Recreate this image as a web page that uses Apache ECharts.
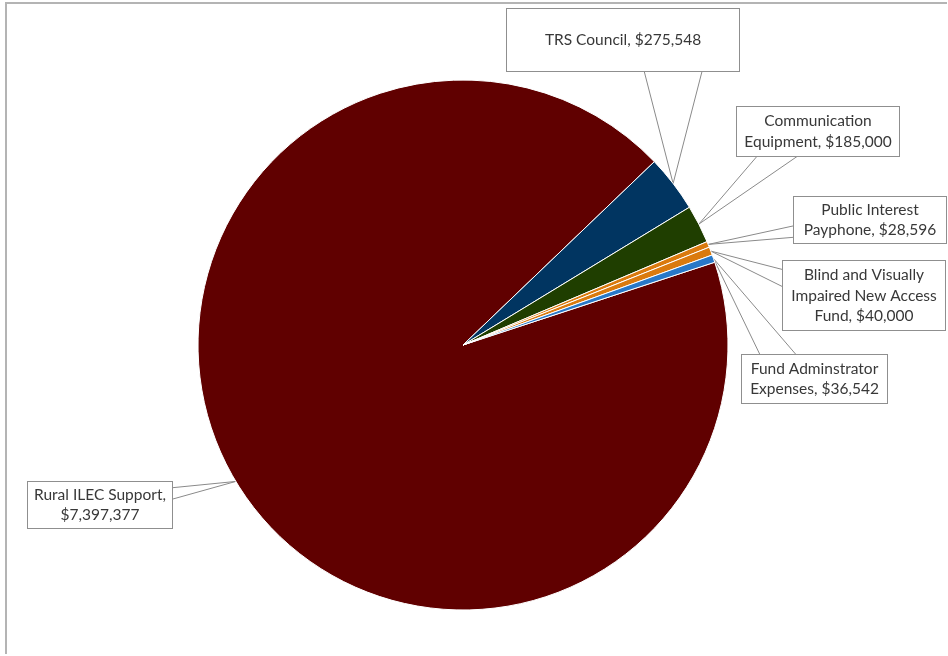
<!DOCTYPE html>
<html>
<head>
<meta charset="utf-8">
<script src="https://cdn.jsdelivr.net/npm/echarts@6/dist/echarts.min.js"></script>
<style>
  html, body { margin: 0; padding: 0; background: #fff; overflow: hidden; }
  #main { width: 948px; height: 656px; }
  #frame {
    position: absolute; left: 5px; top: 2px; width: 940px; height: 650px;
    border-left: 2px solid #b4b4b4; border-top: 2px solid #b4b4b4;
    pointer-events: none;
  }
</style>
</head>
<body>
<div id="main"></div>
<div id="frame"></div>
<script>
// data
const categories = [
    'Rural ILEC Support',
    'TRS Council',
    'Communication\nEquipment',
    'Public Interest\nPayphone',
    'Blind and Visually\nImpaired New Access\nFund',
    'Fund Adminstrator\nExpenses'
]
const values = [7397377, 275548, 185000, 28596, 40000, 36542]
const colors = ['#600000', '#013561', '#1f3e00', '#da7a0e', '#da7a0e', '#2878c8']

// callout boxes: left, top, width, height
const boxes = [
    [28, 482, 144, 46],
    [507, 9, 232, 62],
    [737, 107, 162, 49],
    [794, 197, 152, 46],
    [783, 261, 162, 69],
    [742, 355, 145, 48]
]

function clamp(v, a, b) {
    return Math.max(a, Math.min(b, v))
}

let myChart = echarts.init(document.getElementById('main'))

myChart.setOption({
    animation: false,
    series: [
        {
            type: 'pie',
            center: [463, 345],
            radius: 265,
            startAngle: 18.2,
            avoidLabelOverlap: false,
            itemStyle: {
                borderColor: '#fff',
                borderWidth: 1
            },
            label: {
                show: true,
                position: 'outside',
                color: '#383838',
                fontFamily: 'Lato',
                fontSize: 15.5,
                lineHeight: 20.5,
                backgroundColor: '#fff',
                borderColor: '#8f8f8f',
                borderWidth: 1,
                formatter: (p) => {
                    let v = '$' + p.value.toLocaleString('en-US')
                    // first label puts the value on its own line
                    return p.dataIndex === 0 ? p.name + ',\n' + v : p.name + ', ' + v
                }
            },
            labelLine: {
                show: true,
                length: 10,
                length2: 10,
                lineStyle: { color: '#8a8a8a', width: 1 }
            },
            labelLayout: function (p) {
                let [L, T, W, H] = boxes[p.dataIndex]
                let R = L + W, B = T + H
                let out = { x: L + W / 2, y: T + H / 2, align: 'center', verticalAlign: 'middle' }
                if (p.labelLinePoints) {
                    let [tx, ty] = p.labelLinePoints[0]
                    let ox = tx < L ? L - tx : tx > R ? tx - R : 0
                    let oy = ty < T ? T - ty : ty > B ? ty - B : 0
                    let a, c
                    if (ox > oy) {
                        let ex = tx < L ? L : R
                        let m = clamp(ty, T + H / 4, B - H / 4)
                        a = [ex, m - H / 8]
                        c = [ex, m + H / 8]
                    } else {
                        let ey = ty < T ? T : B
                        let m = clamp(tx, L + W / 4, R - W / 4)
                        a = [m - W / 8, ey]
                        c = [m + W / 8, ey]
                    }
                    out.labelLinePoints = [a, [tx, ty], c]
                }
                return out
            },
            data: values.map((v, i) => ({
                name: categories[i],
                value: v,
                itemStyle: { color: colors[i] },
                label: { width: boxes[i][2], height: boxes[i][3] }
            }))
        }
    ]
})
</script>
</body>
</html>
